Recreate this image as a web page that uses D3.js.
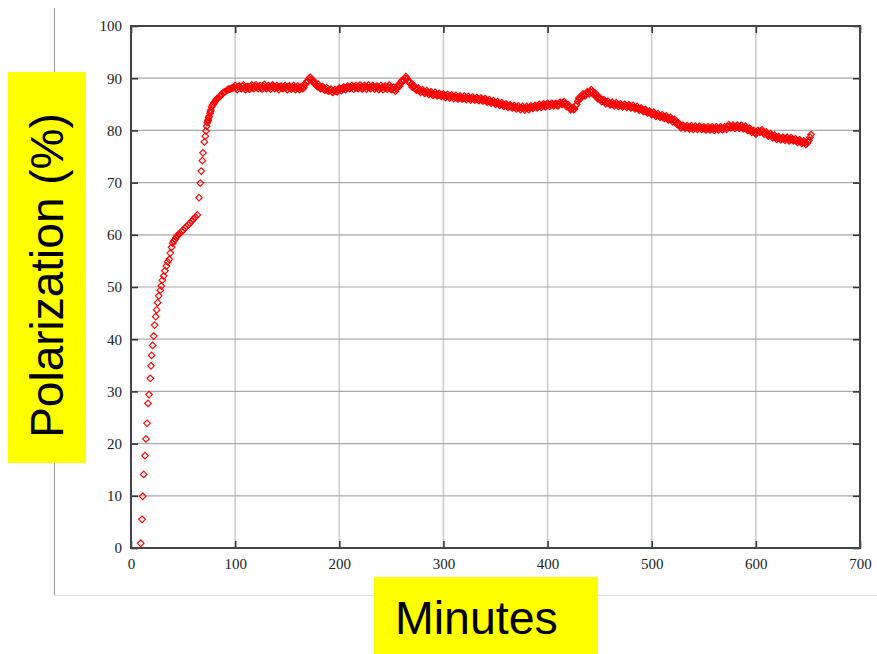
<!DOCTYPE html>
<html>
<head>
<meta charset="utf-8">
<script src="https://cdn.jsdelivr.net/npm/d3@7"></script>
<style>
  html, body { margin: 0; padding: 0; background: #ffffff; }
  svg { display: block; }
</style>
</head>
<body>
<svg id="chart" width="877" height="654"></svg>
<script>
// Sample time (minutes) and measured polarization (%), even-minute readings
const minutes = [
  9.3, 10.6, 11.2, 12.2, 13.4, 14.4, 15.4, 16.3, 17.3, 18.5,
  19.2, 19.8, 20.8, 21.8, 22.7, 23.7, 24.6, 25.6, 26.6, 28.2,
  29.1, 30.1, 31.4, 32.6, 33.9, 35.2, 36.8, 37.7, 39.0, 40.0,
  41.0, 42.2, 43.3, 44.5, 45.7, 47.0, 48.6, 50.2, 51.8, 53.4,
  55.0, 56.6, 58.2, 59.8, 61.8, 63.7, 65.3, 66.6, 67.5, 68.5,
  69.1, 70.4, 71.4, 72.0, 72.7, 73.4, 74.2, 75.0, 75.9, 76.7,
  77.5, 79.0, 80.7, 82.3, 84.0, 85.5, 87.0, 88.5, 90.0, 91.9,
  94.0, 96.0, 98.0,
  100, 102, 104, 106, 108, 110, 112, 114, 116, 118,
  120, 122, 124, 126, 128, 130, 132, 134, 136, 138,
  140, 142, 144, 146, 148, 150, 152, 154, 156, 158,
  160, 162, 164, 166, 168, 170, 172, 174, 176, 178,
  180, 182, 184, 186, 188, 190, 192, 194, 196, 198,
  200, 202, 204, 206, 208, 210, 212, 214, 216, 218,
  220, 222, 224, 226, 228, 230, 232, 234, 236, 238,
  240, 242, 244, 246, 248, 250, 252, 254, 256, 258,
  260, 262, 264, 266, 268, 270, 272, 274, 276, 278,
  280, 282, 284, 286, 288, 290, 292, 294, 296, 298,
  300, 302, 304, 306, 308, 310, 312, 314, 316, 318,
  320, 322, 324, 326, 328, 330, 332, 334, 336, 338,
  340, 342, 344, 346, 348, 350, 352, 354, 356, 358,
  360, 362, 364, 366, 368, 370, 372, 374, 376, 378,
  380, 382, 384, 386, 388, 390, 392, 394, 396, 398,
  400, 402, 404, 406, 408, 410, 412, 414, 416, 418,
  420, 422, 424, 426, 428, 430, 432, 434, 436, 438,
  440, 442, 444, 446, 448, 450, 452, 454, 456, 458,
  460, 462, 464, 466, 468, 470, 472, 474, 476, 478,
  480, 482, 484, 486, 488, 490, 492, 494, 496, 498,
  500, 502, 504, 506, 508, 510, 512, 514, 516, 518,
  520, 522, 524, 526, 528, 530, 532, 534, 536, 538,
  540, 542, 544, 546, 548, 550, 552, 554, 556, 558,
  560, 562, 564, 566, 568, 570, 572, 574, 576, 578,
  580, 582, 584, 586, 588, 590, 592, 594, 596, 598,
  600, 602, 604, 606, 608, 610, 612, 614, 616, 618,
  620, 622, 624, 626, 628, 630, 632, 634, 636, 638,
  640, 642, 644, 646, 648, 650,
  651, 652, 653
];

const polarization = [
  0.9, 5.5, 9.9, 14.1, 17.7, 20.9, 23.9, 27.7, 29.4, 32.5,
  34.9, 36.9, 38.8, 40.6, 42.7, 44.3, 45.6, 47.0, 48.3, 49.4,
  50.2, 51.3, 52.1, 53.1, 54.0, 54.8, 55.3, 56.5, 57.6, 58.4,
  58.8, 59.1, 59.5, 59.8, 60.1, 60.3, 60.6, 60.9, 61.3, 61.6,
  61.9, 62.2, 62.6, 63.0, 63.4, 63.8, 67.1, 69.9, 72.2, 74.2,
  75.7, 77.8, 78.9, 79.9, 80.8, 81.5, 82.0, 82.7, 83.3, 83.9,
  84.5, 85.0, 85.5, 86.0, 86.3, 86.5, 86.9, 87.2, 87.4, 87.6,
  87.9, 88.0, 88.2,
  88.6, 87.8, 88.5, 88.0, 88.7, 87.8, 88.4, 87.9, 88.7, 88.0,
  88.7, 88.0, 88.6, 87.9, 88.8, 88.0, 88.6, 87.9, 88.7, 88.0,
  88.6, 87.8, 88.5, 88.0, 88.6, 87.8, 88.5, 87.9, 88.6, 87.8,
  88.5, 87.8, 88.3, 88.2, 89.2, 89.4, 90.2, 89.5, 89.4, 88.6,
  88.8, 88.0, 88.4, 87.7, 88.2, 87.5, 87.9, 87.3, 87.8, 87.4,
  88.1, 87.6, 88.3, 87.8, 88.5, 88.0, 88.6, 87.9, 88.6, 88.0,
  88.7, 87.9, 88.6, 87.9, 88.7, 88.0, 88.6, 87.9, 88.5, 87.8,
  88.6, 87.8, 88.5, 87.9, 88.7, 87.8, 88.3, 87.5, 88.4, 88.5,
  89.5, 89.6, 90.3, 89.4, 89.3, 88.3, 88.5, 87.7, 88.1, 87.3,
  87.8, 87.1, 87.6, 86.9, 87.4, 86.7, 87.3, 86.6, 87.1, 86.5,
  87.0, 86.3, 86.9, 86.2, 86.8, 86.1, 86.7, 86.0, 86.6, 86.0,
  86.6, 85.9, 86.5, 85.8, 86.4, 85.8, 86.3, 85.7, 86.2, 85.6,
  86.1, 85.4, 85.9, 85.2, 85.7, 85.0, 85.5, 84.8, 85.3, 84.6,
  85.1, 84.4, 84.9, 84.3, 84.8, 84.1, 84.7, 84.0, 84.6, 83.9,
  84.6, 84.0, 84.7, 84.2, 84.8, 84.3, 85.0, 84.4, 85.1, 84.5,
  85.2, 84.6, 85.2, 84.7, 85.2, 84.7, 85.4, 85.0, 85.5, 84.6,
  84.9, 84.0, 84.3, 84.1, 85.0, 86.2, 86.2, 87.0, 86.6, 87.4,
  87.0, 87.8, 86.9, 87.1, 86.1, 86.3, 85.5, 85.9, 85.1, 85.6,
  84.9, 85.4, 84.7, 85.3, 84.6, 85.1, 84.5, 85.0, 84.4, 84.9,
  84.3, 84.8, 84.1, 84.6, 83.9, 84.3, 83.6, 84.0, 83.3, 83.7,
  83.0, 83.5, 82.7, 83.2, 82.5, 83.0, 82.3, 82.8, 82.0, 82.5,
  81.7, 82.1, 81.2, 81.4, 80.5, 81.0, 80.4, 80.9, 80.3, 80.9,
  80.2, 80.8, 80.2, 80.8, 80.2, 80.7, 80.1, 80.7, 80.1, 80.7,
  80.0, 80.7, 80.1, 80.7, 80.1, 80.7, 80.2, 81.1, 80.5, 81.0,
  80.4, 81.0, 80.4, 81.0, 80.3, 80.8, 80.0, 80.4, 79.6, 80.0,
  79.3, 80.0, 79.6, 80.1, 79.3, 79.7, 78.9, 79.4, 78.6, 79.1,
  78.3, 78.8, 78.2, 78.7, 78.1, 78.7, 78.0, 78.6, 78.0, 78.4,
  77.7, 78.2, 77.5, 78.0, 77.3, 77.8,
  78.1, 78.7, 79.2
];

// Intermediate (odd-minute) readings
const minutesOdd = [
  73.8, 74.6, 76.3, 78.2, 79.8, 81.5, 83.1, 86.3, 89.2, 92.9,
  95.0, 97.0, 99.0,
  101, 103, 105, 107, 109, 111, 113, 115, 117, 119,
  121, 123, 125, 127, 129, 131, 133, 135, 137, 139,
  141, 143, 145, 147, 149, 151, 153, 155, 157, 159,
  161, 163, 165, 167, 169, 171, 173, 175, 177, 179,
  181, 183, 185, 187, 189, 191, 193, 195, 197, 199,
  201, 203, 205, 207, 209, 211, 213, 215, 217, 219,
  221, 223, 225, 227, 229, 231, 233, 235, 237, 239,
  241, 243, 245, 247, 249, 251, 253, 255, 257, 259,
  261, 263, 265, 267, 269, 271, 273, 275, 277, 279,
  281, 283, 285, 287, 289, 291, 293, 295, 297, 299,
  301, 303, 305, 307, 309, 311, 313, 315, 317, 319,
  321, 323, 325, 327, 329, 331, 333, 335, 337, 339,
  341, 343, 345, 347, 349, 351, 353, 355, 357, 359,
  361, 363, 365, 367, 369, 371, 373, 375, 377, 379,
  381, 383, 385, 387, 389, 391, 393, 395, 397, 399,
  401, 403, 405, 407, 409, 411, 413, 415, 417, 419,
  421, 423, 425, 427, 429, 431, 433, 435, 437, 439,
  441, 443, 445, 447, 449, 451, 453, 455, 457, 459,
  461, 463, 465, 467, 469, 471, 473, 475, 477, 479,
  481, 483, 485, 487, 489, 491, 493, 495, 497, 499,
  501, 503, 505, 507, 509, 511, 513, 515, 517, 519,
  521, 523, 525, 527, 529, 531, 533, 535, 537, 539,
  541, 543, 545, 547, 549, 551, 553, 555, 557, 559,
  561, 563, 565, 567, 569, 571, 573, 575, 577, 579,
  581, 583, 585, 587, 589, 591, 593, 595, 597, 599,
  601, 603, 605, 607, 609, 611, 613, 615, 617, 619,
  621, 623, 625, 627, 629, 631, 633, 635, 637, 639,
  641, 643, 645, 647, 649
];

const polarizationOdd = [
  81.8, 82.4, 83.6, 84.8, 85.3, 85.8, 86.1, 86.7, 87.3, 87.8,
  87.9, 88.1, 88.2,
  88.1, 88.4, 88.2, 88.5, 88.1, 88.3, 88.0, 88.4, 88.2, 88.5,
  88.3, 88.4, 88.1, 88.5, 88.2, 88.4, 88.2, 88.5, 88.3, 88.3,
  88.2, 88.4, 88.1, 88.3, 88.2, 88.4, 88.1, 88.3, 88.2, 88.2,
  88.1, 88.3, 88.0, 88.7, 89.4, 89.9, 89.8, 89.2, 88.9, 88.4,
  88.3, 88.2, 87.9, 87.9, 87.6, 87.7, 87.4, 87.6, 87.5, 87.8,
  87.9, 88.0, 88.1, 88.2, 88.3, 88.2, 88.4, 88.3, 88.2, 88.3,
  88.3, 88.2, 88.4, 88.3, 88.2, 88.4, 88.3, 88.2, 88.3, 88.1,
  88.2, 88.3, 88.1, 88.3, 88.2, 87.9, 87.8, 88.0, 88.8, 89.0,
  89.7, 90.0, 89.9, 89.2, 88.8, 88.5, 88.0, 87.9, 87.6, 87.5,
  87.4, 87.3, 87.2, 87.1, 87.0, 86.9, 86.9, 86.8, 86.8, 86.7,
  86.6, 86.6, 86.5, 86.5, 86.4, 86.4, 86.3, 86.3, 86.3, 86.2,
  86.2, 86.2, 86.1, 86.1, 86.0, 86.0, 86.0, 85.9, 85.9, 85.8,
  85.7, 85.6, 85.5, 85.4, 85.3, 85.2, 85.1, 85.0, 84.9, 84.8,
  84.7, 84.6, 84.6, 84.5, 84.4, 84.4, 84.3, 84.3, 84.2, 84.3,
  84.3, 84.4, 84.4, 84.5, 84.6, 84.6, 84.7, 84.8, 84.8, 84.9,
  84.9, 84.9, 85.0, 85.0, 84.9, 85.0, 85.2, 85.3, 85.1, 84.7,
  84.4, 84.1, 84.0, 84.7, 85.6, 86.2, 86.5, 86.8, 87.0, 87.2,
  87.4, 87.4, 87.0, 86.6, 86.2, 85.9, 85.7, 85.5, 85.3, 85.2,
  85.1, 85.0, 85.0, 84.9, 84.9, 84.8, 84.7, 84.7, 84.6, 84.6,
  84.5, 84.4, 84.3, 84.2, 84.1, 83.9, 83.8, 83.6, 83.5, 83.3,
  83.2, 83.1, 82.9, 82.8, 82.7, 82.6, 82.5, 82.4, 82.2, 82.1,
  81.9, 81.7, 81.3, 80.9, 80.7, 80.7, 80.6, 80.6, 80.6, 80.5,
  80.5, 80.5, 80.5, 80.5, 80.4, 80.4, 80.4, 80.4, 80.4, 80.4,
  80.3, 80.4, 80.4, 80.4, 80.4, 80.4, 80.7, 80.8, 80.7, 80.7,
  80.7, 80.7, 80.7, 80.6, 80.5, 80.4, 80.2, 80.0, 79.8, 79.6,
  79.6, 79.8, 79.9, 79.7, 79.5, 79.3, 79.1, 79.0, 78.8, 78.7,
  78.6, 78.5, 78.4, 78.4, 78.4, 78.3, 78.3, 78.3, 78.2, 78.0,
  78.0, 77.8, 77.7, 77.6, 77.5
];

const xTicks = [0, 100, 200, 300, 400, 500, 600, 700];
const yTicks = [0, 10, 20, 30, 40, 50, 60, 70, 80, 90, 100];
const xTitle = "Minutes";
const yTitle = "Polarization (%)";

const svg = d3.select("#chart");

const plot = { left: 131, right: 860, top: 26, bottom: 548 };
const x = d3.scaleLinear().domain([0, 700]).range([plot.left, plot.right]);
const y = d3.scaleLinear().domain([0, 100]).range([plot.bottom, plot.top]);

// Slide frame lines behind the chart
svg.append("line")
  .attr("x1", 54.5).attr("x2", 54.5).attr("y1", 8).attr("y2", 595)
  .attr("stroke", "#9a9a9a").attr("stroke-width", 1);
svg.append("line")
  .attr("x1", 54).attr("x2", 877).attr("y1", 595.5).attr("y2", 595.5)
  .attr("stroke", "#dedede").attr("stroke-width", 1);

// Grid
const grid = svg.append("g");
grid.selectAll("line.vgrid")
  .data(xTicks.filter(t => t > 0 && t < 700))
  .join("line")
  .attr("class", "vgrid")
  .attr("x1", d => x(d)).attr("x2", d => x(d))
  .attr("y1", plot.top).attr("y2", plot.bottom)
  .attr("stroke", "#cccccc").attr("stroke-width", 1.6);
grid.selectAll("line.hgrid")
  .data(yTicks.filter(t => t > 0 && t < 100))
  .join("line")
  .attr("class", "hgrid")
  .attr("x1", plot.left).attr("x2", plot.right)
  .attr("y1", d => y(d)).attr("y2", d => y(d))
  .attr("stroke", "#a9a9a9").attr("stroke-width", 1.2);

// Axes with inward ticks on all four sides
const tickFont = "'Liberation Serif', 'Times New Roman', serif";
function styleAxis(g, labels) {
  g.select(".domain").remove();
  g.selectAll(".tick line").attr("stroke", "#333").attr("stroke-width", 1.6);
  g.selectAll(".tick text")
    .attr("fill", "#222")
    .style("font-family", tickFont)
    .style("font-size", "15px");
  if (!labels) g.selectAll(".tick text").remove();
}

svg.append("g")
  .attr("transform", `translate(${plot.left},0)`)
  .call(d3.axisLeft(y).tickValues(yTicks).tickSize(-7).tickPadding(9))
  .call(g => styleAxis(g, true));
svg.append("g")
  .attr("transform", `translate(${plot.right},0)`)
  .call(d3.axisRight(y).tickValues(yTicks).tickSize(-7).tickFormat(""))
  .call(g => styleAxis(g, false));
svg.append("g")
  .attr("transform", `translate(0,${plot.bottom})`)
  .call(d3.axisBottom(x).tickValues(xTicks).tickSize(-7).tickPadding(10))
  .call(g => styleAxis(g, true));
svg.append("g")
  .attr("transform", `translate(0,${plot.top})`)
  .call(d3.axisTop(x).tickValues(xTicks).tickSize(-7).tickFormat(""))
  .call(g => styleAxis(g, false));

// Plot frame
svg.append("rect")
  .attr("x", plot.left).attr("y", plot.top)
  .attr("width", plot.right - plot.left).attr("height", plot.bottom - plot.top)
  .attr("fill", "none").attr("stroke", "#444").attr("stroke-width", 2);

// Open diamond markers
const points = minutes.map((m, i) => [m, polarization[i]])
  .concat(minutesOdd.map((m, i) => [m, polarizationOdd[i]]));
const r = 3.3;
const diamond = `M0,${-r}L${r},0L0,${r}L${-r},0Z`;
svg.append("g")
  .selectAll("path")
  .data(points)
  .join("path")
  .attr("d", diamond)
  .attr("transform", d => `translate(${x(d[0])},${y(d[1])})`)
  .attr("fill", "none")
  .attr("stroke", "#ff0000")
  .attr("stroke-width", 1.15);

// Axis titles on yellow panels
const titleFont = "'Liberation Sans', Arial, Helvetica, sans-serif";
svg.append("rect")
  .attr("x", 8).attr("y", 72).attr("width", 78).attr("height", 391)
  .attr("fill", "#ffff00");
svg.append("text")
  .attr("transform", "translate(63,275.5) rotate(-90)")
  .attr("text-anchor", "middle")
  .style("font-family", titleFont)
  .style("font-size", "46px")
  .attr("fill", "#000")
  .text(yTitle);

svg.append("rect")
  .attr("x", 374).attr("y", 577).attr("width", 224).attr("height", 77)
  .attr("fill", "#ffff00");
svg.append("text")
  .attr("x", 395).attr("y", 633.5)
  .style("font-family", titleFont)
  .style("font-size", "46.5px")
  .attr("fill", "#000")
  .text(xTitle);
</script>
</body>
</html>
